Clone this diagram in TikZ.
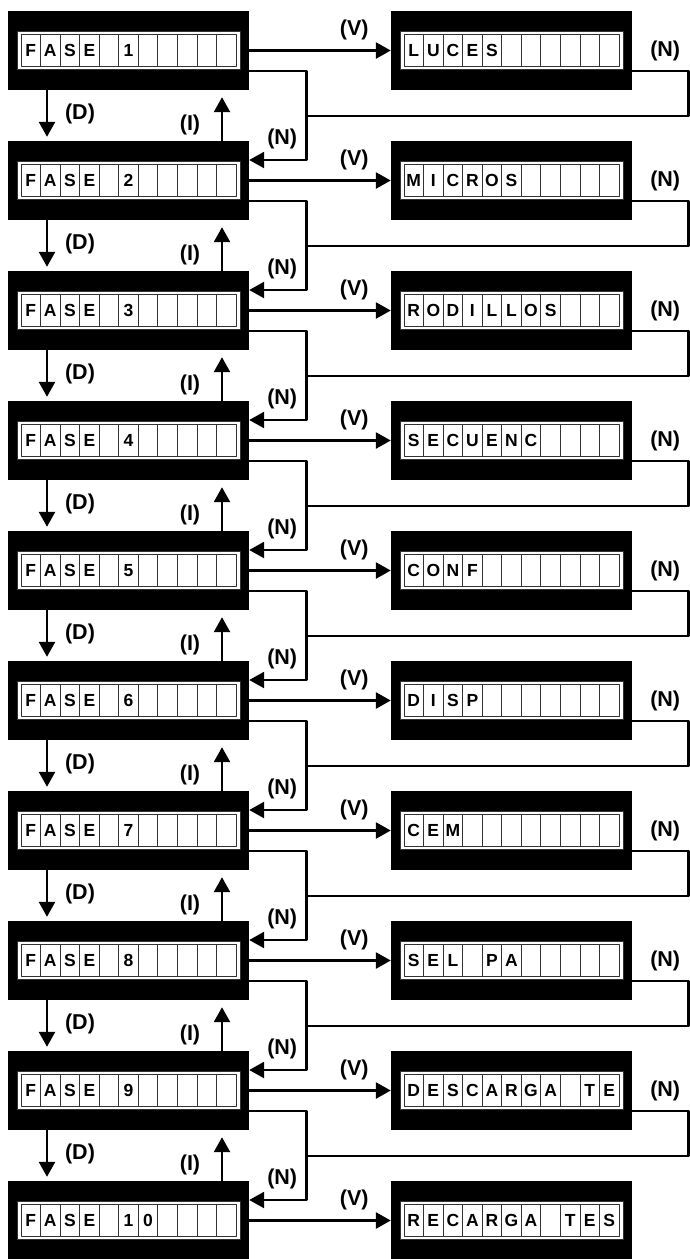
\documentclass[tikz,border=0pt]{standalone}
\usepackage{fontspec}
\setmainfont{Liberation Sans}
\usetikzlibrary{arrows.meta}

\newcommand{\lcdrow}[2]{%
  \draw[panel] ([shift={(-111.5,-19)}]#1.center) rectangle ([shift={(111.5,19)}]#1.center);
  \foreach \k in {0,...,10}
    \node[cell] (#1-\k) at ([shift={({-97.73+19.545*\k},0)}]#1.center) {};
  \foreach \c [count=\k from 0] in #2
    \node[letter] (#1-t\k) at (#1-\k) {\c};
}

\begin{document}
\begin{tikzpicture}[x=1pt, y=-1pt, line join=round, >={Triangle[length=15pt,width=16pt]},
  lcd/.style={fill=black, minimum width=241pt, minimum height=79pt, inner sep=0pt},
  panel/.style={draw=black!80, fill=white, line width=0.8pt},
  cell/.style={draw=black!80, line width=0.8pt, minimum width=19.545pt, minimum height=32pt, inner sep=0pt},
  letter/.style={font=\bfseries\fontsize{17.5}{19}\selectfont, inner sep=0pt},
  flow/.style={->, line width=2.6pt},
  wire/.style={line width=2.6pt},
  lbl/.style={font=\bfseries\fontsize{21.5}{23}\selectfont, inner sep=0pt}]
	\useasboundingbox (0,0) rectangle (690,1259);
	\foreach \i/\fase/\menu in {
		1/{F,A,S,E,{},1}/{L,U,C,E,S},
		2/{F,A,S,E,{},2}/{M,I,C,R,O,S},
		3/{F,A,S,E,{},3}/{R,O,D,I,L,L,O,S},
		4/{F,A,S,E,{},4}/{S,E,C,U,E,N,C},
		5/{F,A,S,E,{},5}/{C,O,N,F},
		6/{F,A,S,E,{},6}/{D,I,S,P},
		7/{F,A,S,E,{},7}/{C,E,M},
		8/{F,A,S,E,{},8}/{S,E,L,{},P,A},
		9/{F,A,S,E,{},9}/{D,E,S,C,A,R,G,A,{},T,E},
		10/{F,A,S,E,{},1,0}/{R,E,C,A,R,G,A,{},T,E,S}}{
		\node[lcd] (f\i) at (128.5,{50.5+130*(\i-1)}) {};
		\node[lcd] (m\i) at (511.5,{50.5+130*(\i-1)}) {};
		\lcdrow{f\i}{\fase}
		\lcdrow{m\i}{\menu}
		\draw[flow] (f\i.east) -- (m\i.west);
		\node[lbl] (v\i) at ([shift={(105,-20.5)}]f\i.east) {(V)};
	}
	\foreach \i in {1,...,9}{
		\pgfmathtruncatemacro{\j}{\i+1}
		\coordinate (j\i) at ([shift={(57.5,65.5)}]f\i.east);
		\draw[flow, shorten >=4pt] ([xshift=-81.5pt]f\i.south) -- ([xshift=-81.5pt]f\j.north);
		\draw[flow, shorten >=7pt] ([xshift=93.5pt]f\j.north) -- ([xshift=93.5pt]f\i.south);
		\draw[flow] ([shift={(0,20.5)}]f\i.east) -- ++(57.5,0) |- ([shift={(0,-20.5)}]f\j.east);
		\draw[wire] ([shift={(0,20.5)}]m\i.east) -- ++(56,0) |- (j\i);
		\node[lbl] (d\i) at ([shift={(-48.5,24)}]f\i.south) {(D)};
		\node[lbl] (i\i) at ([shift={(61.5,35)}]f\i.south) {(I)};
		\node[lbl] (n\i) at ([shift={(33,-41.5)}]f\j.east) {(N)};
		\node[lbl] (r\i) at ([shift={(33,0)}]m\i.east) {(N)};
	}
\end{tikzpicture}
\end{document}
